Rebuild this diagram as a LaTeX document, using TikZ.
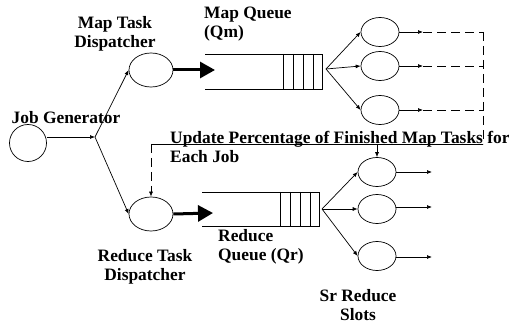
\documentclass[tikz,border=0pt]{standalone}
\usepackage{fontspec}
\setmainfont{Liberation Serif}
\usetikzlibrary{shapes.geometric,arrows.meta}
\begin{document}
\begin{tikzpicture}[
  x=1pt, y=-1pt,
  font=\fontsize{17.4}{19}\selectfont\bfseries,
  dispatcher/.style={ellipse, draw, line width=0.7pt, minimum width=44pt, minimum height=34pt, inner sep=0pt},
  slot/.style={ellipse, draw, line width=0.7pt, minimum width=38pt, minimum height=29pt, inner sep=0pt},
  tag/.style={align=center, inner sep=0pt},
  arrow/.style={-{Latex[length=5pt,width=4pt]}, line width=0.7pt},
  bigarrow/.style={-{Triangle[length=15pt,width=16pt]}, line width=3pt},
  feedback/.style={dash pattern=on 9pt off 5pt, line width=0.8pt}
]
\useasboundingbox (0,0) rectangle (509,326);

% Job generator and split point
\node[circle, draw, line width=0.7pt, minimum size=37pt, inner sep=0pt] (gen) at (28,143) {};
\node[tag] (gentext) at (66,118) {Job Generator};
\coordinate (split) at (95,137);

% Dispatchers
\node[dispatcher] (mapdisp) at (151,70) {};
\node[tag] (mapdisptext) at (115,34) {Map Task\\Dispatcher};
\node[dispatcher] (reddisp) at (151,214) {};
\node[tag] (reddisptext) at (145,267) {Reduce Task\\Dispatcher};

% Map queue (Qm)
\coordinate (mqin) at (215,70);
\coordinate (mqout) at (326,69);
\draw[line width=0.7pt] (205,54) -- (322,54) -- (322,89) -- (205,89);
\draw[line width=0.7pt] (283,54) -- (283,89) (293,54) -- (293,89) (303,54) -- (303,89) (313,54) -- (313,89);
\node[tag, align=left, anchor=west] (mqtext) at (204,24) {Map Queue\\(Qm)};

% Reduce queue (Qr)
\coordinate (rqin) at (213,213);
\coordinate (rqout) at (322,209);
\draw[line width=0.7pt] (202,192) -- (319,192) -- (319,226) -- (202,226);
\draw[line width=0.7pt] (280,192) -- (280,226) (290,192) -- (290,226) (300,192) -- (300,226) (310,192) -- (310,226);
\node[tag, align=left, anchor=west] (rqtext) at (218,247) {Reduce\\Queue (Qr)};

% Map slots
\node[slot] (mslot1) at (380,32) {};
\node[slot] (mslot2) at (380,66) {};
\node[slot] (mslot3) at (380,110) {};
\coordinate (mend1) at (423,32);
\coordinate (mend2) at (423,66);
\coordinate (mend3) at (423,110);
\coordinate (fb1) at (483,32);
\coordinate (fb2) at (483,66);
\coordinate (fb3) at (483,110);
\coordinate (fbcorner) at (483,144);

% Reduce slots
\node[slot] (rslot1) at (377,172) {};
\node[slot] (rslot2) at (377,209) {};
\node[slot] (rslot3) at (377,256) {};
\coordinate (rend1) at (432,172);
\coordinate (rend2) at (432,207);
\coordinate (rend3) at (432,257);
\node[tag] (slotstext) at (358,305) {Sr Reduce\\Slots};

% Update line
\coordinate (upd) at (151,144);
\coordinate (updslot) at (377,144);
\node[tag, align=left, anchor=north west] (updtext) at (170,131) {Update Percentage of Finished Map Tasks for\\Each Job};

% Arrows
\draw[arrow] (gen.east |- split) -- (split);
\draw[arrow] (split) -- (mapdisp.west);
\draw[arrow] (split) -- (reddisp.west);
\draw[bigarrow] (mapdisp.east) -- (mqin);
\draw[bigarrow] (reddisp.east) -- (rqin);
\draw[arrow] (mqout) -- (mslot1.west);
\draw[arrow] (mqout) -- (mslot2.west);
\draw[arrow] (mqout) -- (mslot3.west);
\draw[arrow] (rqout) -- (rslot1.west);
\draw[arrow] (rqout) -- (rslot2.west);
\draw[arrow] (rqout) -- (rslot3.west);
\draw[arrow] (mslot1.east) -- (mend1);
\draw[arrow] (mslot2.east) -- (mend2);
\draw[arrow] (mslot3.east) -- (mend3);
\draw[arrow] (rslot1.east) -- (rend1);
\draw[arrow] (rslot2.east |- rend2) -- (rend2);
\draw[arrow] (rslot3.east |- rend3) -- (rend3);

% Feedback of finished map tasks
\draw[feedback] (mend1) -- (fb1) (mend2) -- (fb2) (mend3) -- (fb3);
\draw[feedback] (fb1) -- (fbcorner);
\draw[line width=0.7pt] (fbcorner) -- (upd);
\draw[feedback, arrow] (upd) -- (reddisp.north);
\draw[arrow] (updslot) -- (rslot1.north);

\end{tikzpicture}
\end{document}
